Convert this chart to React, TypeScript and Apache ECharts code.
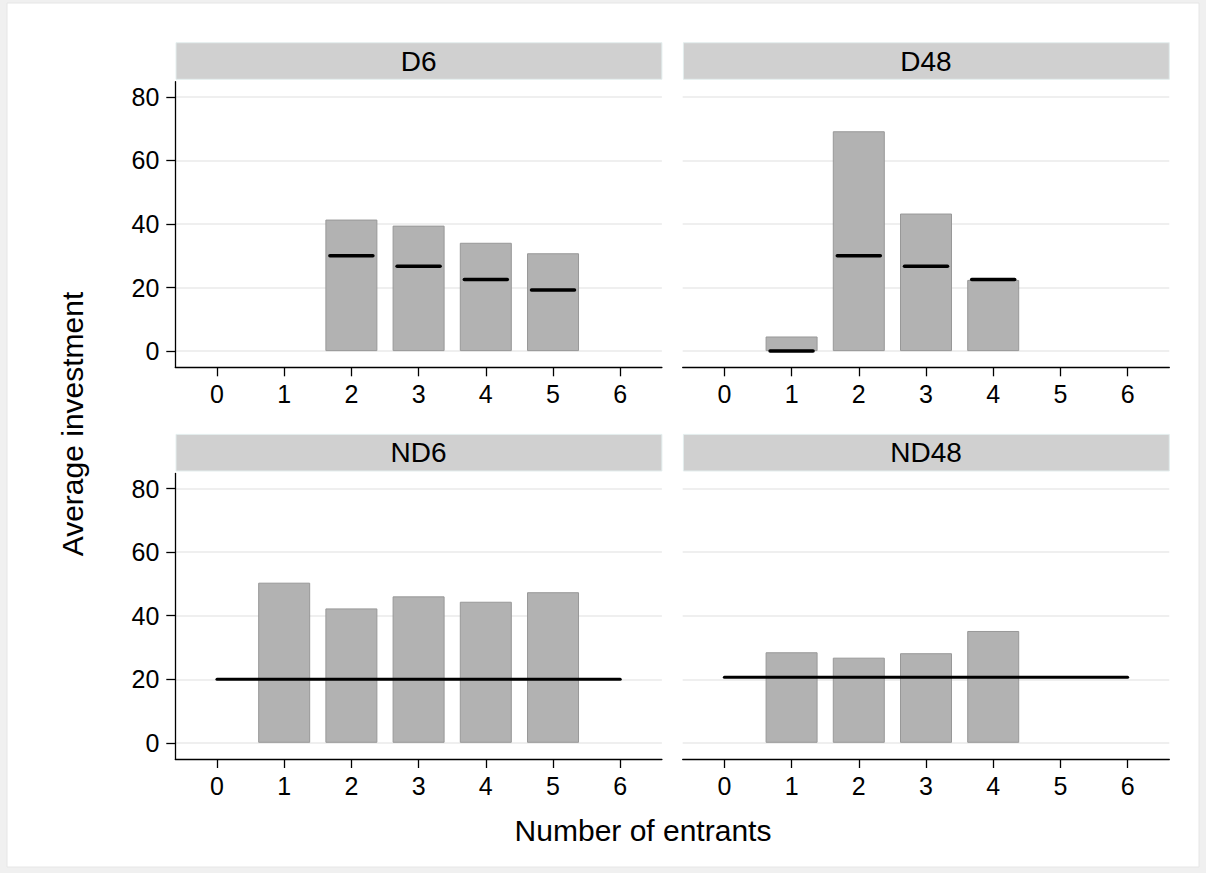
import React, { useEffect, useRef } from "react";
import * as echarts from "echarts";

// ---- data ----
const panelTitles = ["D6", "D48", "ND6", "ND48"];
const xTicks = [0, 1, 2, 3, 4, 5, 6];
const yTicks = [0, 20, 40, 60, 80];

const d6Entrants = [2, 3, 4, 5];
const d6Investment = [41.4, 39.5, 34.1, 30.8];
const d6Benchmark = [30, 26.7, 22.5, 19.2];

const d48Entrants = [1, 2, 3, 4];
const d48Investment = [4.6, 69.2, 43.3, 22.4];
const d48Benchmark = [0, 30, 26.7, 22.5];

const nd6Entrants = [1, 2, 3, 4, 5];
const nd6Investment = [50.4, 42.3, 46.1, 44.4, 47.4];
const nd6Benchmark = 20;

const nd48Entrants = [1, 2, 3, 4];
const nd48Investment = [28.5, 26.8, 28.2, 35.2];
const nd48Benchmark = 20.6;

const benchmarkSpan = [0, 6];

const FONT = "'Liberation Sans', Arial, Helvetica, sans-serif";

export default function App() {
  const ref = useRef<HTMLDivElement>(null);

  useEffect(() => {
    if (!ref.current) return;
    const chart = echarts.init(ref.current, undefined, { renderer: "svg" });

    const gx = [175.3, 682.7];
    const gw = 486.6;
    const gy = [81.7, 473.4];
    const gh = 285.6;
    const stripH = 36.6;

    const grids: any[] = [];
    const xAxes: any[] = [];
    const yAxes: any[] = [];
    for (let r = 0; r < 2; r++) {
      for (let c = 0; c < 2; c++) {
        const i = r * 2 + c;
        grids.push({ left: gx[c], top: gy[r], width: gw, height: gh, outerBoundsMode: "none", containLabel: false });
        xAxes.push({
          type: "value",
          gridIndex: i,
          min: -0.62,
          max: 6.62,
          axisLine: { show: true, onZero: false, lineStyle: { color: "#000", width: 1.3 } },
          axisTick: { show: true, length: 9, customValues: xTicks, lineStyle: { color: "#000", width: 1.3 } },
          axisLabel: { show: true, customValues: xTicks, margin: 14, color: "#000", fontSize: 25, fontFamily: FONT },
          splitLine: { show: false },
        });
        yAxes.push({
          type: "value",
          gridIndex: i,
          min: -5.1,
          max: 84.8,
          axisLine: { show: c === 0, onZero: false, lineStyle: { color: "#000", width: 1.3 } },
          axisTick: { show: c === 0, length: 9, customValues: yTicks, lineStyle: { color: "#000", width: 1.3 } },
          axisLabel: { show: c === 0, customValues: yTicks, margin: 16, color: "#000", fontSize: 25, fontFamily: FONT },
          splitLine: { show: true, lineStyle: { color: "#eaeaea", width: 1.5 } },
        });
      }
    }

    const barStyle = { color: "#b2b2b2", borderColor: "#989898", borderWidth: 1 };
    const bar = (idx: number, xs: number[], ys: number[]) => ({
      type: "bar",
      xAxisIndex: idx,
      yAxisIndex: idx,
      barWidth: 52,
      data: xs.map((x, k) => [x, ys[k]]),
      itemStyle: barStyle,
      z: 2,
    });
    const segs = (idx: number, xs: number[], ys: number[]) => ({
      type: "custom",
      xAxisIndex: idx,
      yAxisIndex: idx,
      data: xs.map((x, k) => [x, ys[k]]),
      z: 5,
      renderItem: (params: any, api: any) => {
        const x = api.value(0);
        const y = api.value(1);
        const p1 = api.coord([x - 0.32, y]);
        const p2 = api.coord([x + 0.32, y]);
        return {
          type: "line",
          shape: { x1: p1[0], y1: p1[1], x2: p2[0], y2: p2[1] },
          style: { stroke: "#000", lineWidth: 3.5, lineCap: "round" },
        };
      },
    });
    const hline = (idx: number, v: number) => ({
      type: "line",
      xAxisIndex: idx,
      yAxisIndex: idx,
      data: benchmarkSpan.map((x) => [x, v]),
      symbol: "none",
      lineStyle: { color: "#000", width: 3, cap: "round" },
      z: 5,
    });

    const graphics: any[] = [
      {
        type: "rect",
        shape: { x: 7, y: 3, width: 1192, height: 864 },
        style: { fill: "#fff", stroke: "#e6e6e6", lineWidth: 1 },
        z: -10,
      },
    ];
    for (let r = 0; r < 2; r++) {
      for (let c = 0; c < 2; c++) {
        const i = r * 2 + c;
        const top = gy[r] - stripH - 2.4;
        graphics.push({
          type: "rect",
          shape: { x: gx[c] + 0.7, y: top, width: gw - 0.7, height: stripH },
          style: { fill: "#d0d0d0", stroke: "#e4eeee", lineWidth: 1 },
        });
        graphics.push({
          type: "text",
          x: gx[c] + gw / 2,
          y: top + stripH / 2,
          style: {
            text: panelTitles[i],
            fill: "#000",
            fontSize: 28,
            fontFamily: FONT,
            align: "center",
            verticalAlign: "middle",
          },
        });
      }
    }
    graphics.push({
      type: "text",
      x: 72.5,
      y: 424,
      rotation: Math.PI / 2,
      style: {
        text: "Average investment",
        fill: "#000",
        fontSize: 30,
        fontFamily: FONT,
        align: "center",
        verticalAlign: "middle",
      },
    });
    graphics.push({
      type: "text",
      x: 643,
      y: 830,
      style: {
        text: "Number of entrants",
        fill: "#000",
        fontSize: 30,
        fontFamily: FONT,
        align: "center",
        verticalAlign: "middle",
      },
    });

    chart.setOption({
      animation: false,
      backgroundColor: "#f0f0f0",
      grid: grids,
      xAxis: xAxes,
      yAxis: yAxes,
      graphic: graphics,
      series: [
        bar(0, d6Entrants, d6Investment),
        segs(0, d6Entrants, d6Benchmark),
        bar(1, d48Entrants, d48Investment),
        segs(1, d48Entrants, d48Benchmark),
        bar(2, nd6Entrants, nd6Investment),
        hline(2, nd6Benchmark),
        bar(3, nd48Entrants, nd48Investment),
        hline(3, nd48Benchmark),
      ],
    });

    return () => chart.dispose();
  }, []);

  return (
    <div
      ref={ref}
      style={{ position: "absolute", left: 0, top: 0, width: 1206, height: 873 }}
    />
  );
}
